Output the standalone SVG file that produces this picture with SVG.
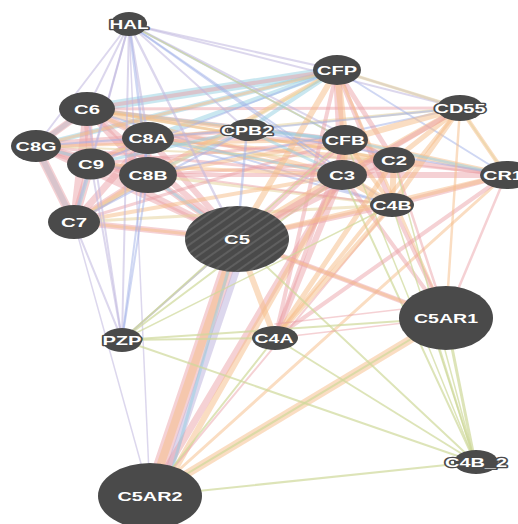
<svg xmlns="http://www.w3.org/2000/svg" width="518" height="524" viewBox="0 0 518 524">
<defs>
<pattern id="hatch" patternUnits="userSpaceOnUse" width="7" height="7" patternTransform="rotate(-35)">
<rect width="7" height="7" fill="#4a4a4a"/>
<line x1="0" y1="1" x2="7" y2="1" stroke="#6a6a6a" stroke-width="1.3"/>
</pattern>
</defs>
<style>
.e line{stroke-linecap:round;fill:none}
.pk{stroke:#eb9ea6;stroke-opacity:.48}
.or{stroke:#f5bd8a;stroke-opacity:.52}
.bl{stroke:#93d0e2;stroke-opacity:.5}
.lv{stroke:#bfb6de;stroke-opacity:.55}
.pw{stroke:#9fb0e8;stroke-opacity:.5}
.gn{stroke:#cfd99a;stroke-opacity:.7}
.bg{stroke:#e6d39e;stroke-opacity:.55}
.n ellipse{fill:#4a4a4a}
.n text{fill:#fff;font-family:"Liberation Sans",Arial,sans-serif;font-size:13px;font-weight:bold;text-anchor:middle;stroke:#4a4a4a;stroke-width:2.5;paint-order:stroke;stroke-linejoin:round}
</style>
<rect width="518" height="524" fill="#fff"/>
<g id="connectors" class="e">
<!-- wide bands -->
<line class="bl" x1="87" y1="109" x2="337" y2="70" stroke-width="9"/>
<line class="bl" x1="36" y1="146" x2="337" y2="70" stroke-width="5"/>
<line class="bl" x1="148" y1="138" x2="337" y2="70" stroke-width="5"/>
<line class="bl" x1="36" y1="146" x2="74" y2="222" stroke-width="6"/>
<line class="bl" x1="36" y1="146" x2="87" y2="109" stroke-width="5"/>
<line class="pk" x1="150" y1="496" x2="237" y2="239" stroke-width="14"/>
<line class="or" x1="150" y1="496" x2="237" y2="239" stroke-width="8"/>
<line class="lv" x1="160" y1="496" x2="247" y2="239" stroke-width="7"/>
<line class="pk" x1="150" y1="496" x2="342" y2="175" stroke-width="7"/>
<line class="or" x1="160" y1="496" x2="342" y2="175" stroke-width="6"/>
<line class="bl" x1="165" y1="496" x2="237" y2="239" stroke-width="3"/>
<line class="or" x1="150" y1="496" x2="446" y2="318" stroke-width="8"/>
<line class="gn" x1="150" y1="496" x2="446" y2="318" stroke-width="2"/>
<line class="gn" x1="150" y1="496" x2="475" y2="462" stroke-width="2"/>
<line class="or" x1="150" y1="496" x2="506" y2="175" stroke-width="3"/>
<line class="pk" x1="150" y1="496" x2="392" y2="205" stroke-width="2"/>
<line class="gn" x1="150" y1="496" x2="275" y2="338" stroke-width="2"/>
<!-- MAC cluster -->
<line class="pk" x1="87" y1="109" x2="74" y2="222" stroke-width="8"/>
<line class="pk" x1="87" y1="109" x2="148" y2="138" stroke-width="7"/>
<line class="pk" x1="87" y1="109" x2="148" y2="175" stroke-width="7"/>
<line class="pk" x1="87" y1="109" x2="36" y2="146" stroke-width="7"/>
<line class="pk" x1="87" y1="109" x2="91" y2="164" stroke-width="8"/>
<line class="pk" x1="87" y1="109" x2="237" y2="239" stroke-width="6"/>
<line class="pk" x1="74" y1="222" x2="148" y2="138" stroke-width="7"/>
<line class="pk" x1="74" y1="222" x2="148" y2="175" stroke-width="7"/>
<line class="pk" x1="74" y1="222" x2="36" y2="146" stroke-width="9"/>
<line class="pk" x1="74" y1="222" x2="91" y2="164" stroke-width="8"/>
<line class="pk" x1="74" y1="222" x2="237" y2="239" stroke-width="6"/>
<line class="pk" x1="148" y1="138" x2="148" y2="175" stroke-width="7"/>
<line class="pk" x1="148" y1="138" x2="36" y2="146" stroke-width="8"/>
<line class="pk" x1="148" y1="138" x2="91" y2="164" stroke-width="7"/>
<line class="pk" x1="148" y1="138" x2="237" y2="239" stroke-width="6"/>
<line class="pk" x1="148" y1="175" x2="36" y2="146" stroke-width="7"/>
<line class="pk" x1="148" y1="175" x2="91" y2="164" stroke-width="7"/>
<line class="pk" x1="148" y1="175" x2="237" y2="239" stroke-width="6"/>
<line class="pk" x1="36" y1="146" x2="91" y2="164" stroke-width="8"/>
<line class="pk" x1="36" y1="146" x2="237" y2="239" stroke-width="5"/>
<line class="pk" x1="91" y1="164" x2="237" y2="239" stroke-width="6"/>
<line class="or" x1="74" y1="222" x2="148" y2="175" stroke-width="4"/>
<line class="or" x1="87" y1="109" x2="148" y2="138" stroke-width="4"/>
<line class="or" x1="91" y1="164" x2="148" y2="138" stroke-width="4"/>
<line class="bl" x1="91" y1="164" x2="74" y2="222" stroke-width="4"/>
<line class="bl" x1="148" y1="175" x2="148" y2="138" stroke-width="4"/>
<line class="bl" x1="36" y1="146" x2="148" y2="175" stroke-width="3"/>
<line class="or" x1="74" y1="222" x2="237" y2="239" stroke-width="3"/>
<line class="bl" x1="148" y1="175" x2="237" y2="239" stroke-width="3"/>
<!-- MAC to alternative / classical pathway -->
<line class="or" x1="87" y1="109" x2="342" y2="175" stroke-width="4"/>
<line class="pk" x1="87" y1="109" x2="345" y2="140" stroke-width="4"/>
<line class="bl" x1="87" y1="109" x2="345" y2="140" stroke-width="3"/>
<line class="bg" x1="87" y1="109" x2="394" y2="160" stroke-width="3"/>
<line class="pk" x1="87" y1="109" x2="460" y2="108" stroke-width="3"/>
<line class="or" x1="87" y1="109" x2="247" y2="130" stroke-width="4"/>
<line class="pw" x1="87" y1="109" x2="392" y2="205" stroke-width="2"/>
<line class="or" x1="148" y1="138" x2="342" y2="175" stroke-width="4"/>
<line class="pk" x1="148" y1="138" x2="345" y2="140" stroke-width="4"/>
<line class="or" x1="148" y1="138" x2="394" y2="160" stroke-width="3"/>
<line class="bg" x1="148" y1="138" x2="460" y2="108" stroke-width="3"/>
<line class="pk" x1="148" y1="138" x2="247" y2="130" stroke-width="4"/>
<line class="pk" x1="148" y1="138" x2="506" y2="175" stroke-width="2.5"/>
<line class="pw" x1="148" y1="138" x2="392" y2="205" stroke-width="2"/>
<line class="pk" x1="148" y1="175" x2="342" y2="175" stroke-width="4"/>
<line class="or" x1="148" y1="175" x2="345" y2="140" stroke-width="4"/>
<line class="pk" x1="148" y1="175" x2="394" y2="160" stroke-width="3"/>
<line class="or" x1="148" y1="175" x2="337" y2="70" stroke-width="4"/>
<line class="bl" x1="148" y1="175" x2="247" y2="130" stroke-width="3"/>
<line class="bg" x1="148" y1="175" x2="392" y2="205" stroke-width="3"/>
<line class="pk" x1="36" y1="146" x2="342" y2="175" stroke-width="3"/>
<line class="or" x1="36" y1="146" x2="345" y2="140" stroke-width="3"/>
<line class="pw" x1="36" y1="146" x2="247" y2="130" stroke-width="2"/>
<line class="bg" x1="36" y1="146" x2="394" y2="160" stroke-width="2"/>
<line class="or" x1="91" y1="164" x2="342" y2="175" stroke-width="3.5"/>
<line class="pk" x1="91" y1="164" x2="345" y2="140" stroke-width="3"/>
<line class="pw" x1="91" y1="164" x2="337" y2="70" stroke-width="2"/>
<line class="bl" x1="91" y1="164" x2="247" y2="130" stroke-width="3"/>
<line class="pk" x1="91" y1="164" x2="392" y2="205" stroke-width="2"/>
<line class="or" x1="74" y1="222" x2="342" y2="175" stroke-width="4"/>
<line class="pk" x1="74" y1="222" x2="345" y2="140" stroke-width="3"/>
<line class="bg" x1="74" y1="222" x2="337" y2="70" stroke-width="3"/>
<line class="pw" x1="74" y1="222" x2="247" y2="130" stroke-width="2"/>
<line class="bg" x1="74" y1="222" x2="392" y2="205" stroke-width="3"/>
<line class="pk" x1="87" y1="109" x2="337" y2="70" stroke-width="4"/>
<line class="or" x1="36" y1="146" x2="337" y2="70" stroke-width="3"/>
<line class="or" x1="87" y1="109" x2="394" y2="160" stroke-width="2.5"/>
<line class="bl" x1="148" y1="138" x2="342" y2="175" stroke-width="2.5"/>
<line class="pw" x1="148" y1="175" x2="460" y2="108" stroke-width="2"/>
<!-- HAL -->
<line class="lv" x1="129" y1="24" x2="87" y2="109" stroke-width="2"/>
<line class="lv" x1="129" y1="24" x2="36" y2="146" stroke-width="2"/>
<line class="lv" x1="129" y1="24" x2="91" y2="164" stroke-width="2"/>
<line class="lv" x1="129" y1="24" x2="148" y2="138" stroke-width="2.5"/>
<line class="pw" x1="129" y1="24" x2="148" y2="175" stroke-width="2.5"/>
<line class="lv" x1="129" y1="24" x2="74" y2="222" stroke-width="2"/>
<line class="lv" x1="129" y1="24" x2="247" y2="130" stroke-width="2"/>
<line class="lv" x1="129" y1="24" x2="337" y2="70" stroke-width="2"/>
<line class="pw" x1="129" y1="24" x2="345" y2="140" stroke-width="2"/>
<line class="pw" x1="129" y1="24" x2="342" y2="175" stroke-width="2"/>
<line class="lv" x1="129" y1="24" x2="394" y2="160" stroke-width="2"/>
<line class="lv" x1="129" y1="24" x2="460" y2="108" stroke-width="2"/>
<line class="lv" x1="129" y1="24" x2="237" y2="239" stroke-width="2.5"/>
<line class="lv" x1="129" y1="24" x2="122" y2="340" stroke-width="2"/>
<line class="pw" x1="129" y1="24" x2="392" y2="205" stroke-width="2"/>
<line class="gn" x1="129" y1="24" x2="345" y2="140" stroke-width="1.5"/>
<line class="lv" x1="129" y1="24" x2="150" y2="496" stroke-width="1.5"/>
<!-- CFP -->
<line class="pk" x1="337" y1="70" x2="342" y2="175" stroke-width="8"/>
<line class="or" x1="337" y1="70" x2="345" y2="140" stroke-width="7"/>
<line class="pk" x1="337" y1="70" x2="394" y2="160" stroke-width="5"/>
<line class="pk" x1="337" y1="70" x2="392" y2="205" stroke-width="5"/>
<line class="or" x1="337" y1="70" x2="237" y2="239" stroke-width="6"/>
<line class="pk" x1="337" y1="70" x2="275" y2="338" stroke-width="4"/>
<line class="lv" x1="337" y1="70" x2="460" y2="108" stroke-width="2"/>
<line class="pw" x1="337" y1="70" x2="506" y2="175" stroke-width="2"/>
<line class="or" x1="337" y1="70" x2="446" y2="318" stroke-width="3"/>
<line class="bl" x1="337" y1="70" x2="247" y2="130" stroke-width="4"/>
<line class="bg" x1="337" y1="70" x2="460" y2="108" stroke-width="3"/>
<!-- C3 / CFB / C2 / C4B cluster -->
<line class="or" x1="342" y1="175" x2="345" y2="140" stroke-width="8"/>
<line class="pk" x1="342" y1="175" x2="394" y2="160" stroke-width="8"/>
<line class="or" x1="342" y1="175" x2="392" y2="205" stroke-width="8"/>
<line class="or" x1="342" y1="175" x2="237" y2="239" stroke-width="9"/>
<line class="pk" x1="342" y1="175" x2="275" y2="338" stroke-width="6"/>
<line class="or" x1="342" y1="175" x2="460" y2="108" stroke-width="6"/>
<line class="pk" x1="342" y1="175" x2="506" y2="175" stroke-width="6"/>
<line class="pk" x1="342" y1="175" x2="446" y2="318" stroke-width="4"/>
<line class="gn" x1="342" y1="175" x2="475" y2="462" stroke-width="2"/>
<line class="gn" x1="342" y1="175" x2="122" y2="340" stroke-width="2"/>
<line class="bl" x1="342" y1="175" x2="247" y2="130" stroke-width="3"/>
<line class="pk" x1="345" y1="140" x2="394" y2="160" stroke-width="6"/>
<line class="or" x1="345" y1="140" x2="392" y2="205" stroke-width="4"/>
<line class="pk" x1="345" y1="140" x2="237" y2="239" stroke-width="6"/>
<line class="or" x1="345" y1="140" x2="460" y2="108" stroke-width="6"/>
<line class="or" x1="345" y1="140" x2="506" y2="175" stroke-width="5"/>
<line class="pk" x1="345" y1="140" x2="275" y2="338" stroke-width="4"/>
<line class="gn" x1="345" y1="140" x2="475" y2="462" stroke-width="1.5"/>
<line class="bl" x1="345" y1="140" x2="247" y2="130" stroke-width="3"/>
<line class="or" x1="394" y1="160" x2="392" y2="205" stroke-width="6"/>
<line class="pk" x1="394" y1="160" x2="237" y2="239" stroke-width="5"/>
<line class="or" x1="394" y1="160" x2="460" y2="108" stroke-width="5"/>
<line class="pk" x1="394" y1="160" x2="506" y2="175" stroke-width="5"/>
<line class="or" x1="394" y1="160" x2="275" y2="338" stroke-width="5"/>
<line class="pk" x1="394" y1="160" x2="446" y2="318" stroke-width="2.5"/>
<line class="pk" x1="392" y1="205" x2="237" y2="239" stroke-width="5"/>
<line class="or" x1="392" y1="205" x2="275" y2="338" stroke-width="5"/>
<line class="pk" x1="392" y1="205" x2="506" y2="175" stroke-width="5"/>
<line class="or" x1="392" y1="205" x2="460" y2="108" stroke-width="5"/>
<line class="pk" x1="392" y1="205" x2="446" y2="318" stroke-width="4"/>
<line class="gn" x1="392" y1="205" x2="475" y2="462" stroke-width="1.5"/>
<line class="or" x1="460" y1="108" x2="506" y2="175" stroke-width="4"/>
<line class="bg" x1="460" y1="108" x2="506" y2="175" stroke-width="2"/>
<line class="pk" x1="460" y1="108" x2="237" y2="239" stroke-width="5"/>
<line class="or" x1="460" y1="108" x2="275" y2="338" stroke-width="4"/>
<line class="pw" x1="460" y1="108" x2="247" y2="130" stroke-width="2"/>
<line class="or" x1="506" y1="175" x2="237" y2="239" stroke-width="5"/>
<line class="pk" x1="506" y1="175" x2="275" y2="338" stroke-width="4"/>
<line class="pw" x1="506" y1="175" x2="247" y2="130" stroke-width="2"/>
<line class="bl" x1="506" y1="175" x2="345" y2="140" stroke-width="2.5"/>
<!-- C5 / C4A / C5AR1 / PZP / C4B_2 -->
<line class="or" x1="237" y1="239" x2="275" y2="338" stroke-width="6"/>
<line class="pk" x1="237" y1="239" x2="446" y2="318" stroke-width="5"/>
<line class="or" x1="237" y1="239" x2="446" y2="318" stroke-width="3"/>
<line class="gn" x1="237" y1="239" x2="122" y2="340" stroke-width="2"/>
<line class="lv" x1="237" y1="239" x2="122" y2="340" stroke-width="2"/>
<line class="gn" x1="237" y1="239" x2="475" y2="462" stroke-width="2"/>
<line class="pw" x1="237" y1="239" x2="247" y2="130" stroke-width="2.5"/>
<line class="pk" x1="275" y1="338" x2="446" y2="318" stroke-width="1.5"/>
<line class="pk" x1="275" y1="324" x2="446" y2="304" stroke-width="1.5"/>
<line class="gn" x1="275" y1="338" x2="475" y2="462" stroke-width="2"/>
<line class="gn" x1="275" y1="338" x2="122" y2="340" stroke-width="2"/>
<line class="gn" x1="446" y1="318" x2="475" y2="462" stroke-width="3"/>
<line class="gn" x1="430" y1="318" x2="475" y2="462" stroke-width="2"/>
<line class="gn" x1="446" y1="318" x2="122" y2="340" stroke-width="2"/>
<line class="gn" x1="122" y1="340" x2="475" y2="462" stroke-width="2"/>
<line class="lv" x1="122" y1="340" x2="87" y2="109" stroke-width="2"/>
<line class="lv" x1="122" y1="340" x2="91" y2="164" stroke-width="2"/>
<line class="lv" x1="122" y1="340" x2="74" y2="222" stroke-width="2"/>
<line class="pw" x1="122" y1="340" x2="148" y2="138" stroke-width="2"/>
<line class="pw" x1="122" y1="340" x2="148" y2="175" stroke-width="2"/>
<line class="gn" x1="122" y1="340" x2="345" y2="140" stroke-width="1.5"/>
<line class="gn" x1="122" y1="340" x2="392" y2="205" stroke-width="1.5"/>
<line class="pk" x1="446" y1="318" x2="506" y2="175" stroke-width="2.5"/>
<line class="or" x1="446" y1="318" x2="460" y2="108" stroke-width="2.5"/>
<line class="gn" x1="475" y1="462" x2="394" y2="160" stroke-width="1.5"/>
<line class="lv" x1="74" y1="222" x2="150" y2="496" stroke-width="1.5"/>
</g>
<g id="HAL" class="n"><ellipse cx="129" cy="24" rx="18" ry="12"/><text x="129" y="28.5" textLength="39" lengthAdjust="spacingAndGlyphs">HAL</text></g>
<g id="CFP" class="n"><ellipse cx="337" cy="70" rx="24" ry="15"/><text x="337" y="74.5" textLength="40" lengthAdjust="spacingAndGlyphs">CFP</text></g>
<g id="CD55" class="n"><ellipse cx="460" cy="108" rx="23" ry="13"/><text x="460" y="112.5" textLength="51" lengthAdjust="spacingAndGlyphs">CD55</text></g>
<g id="C6" class="n"><ellipse cx="87" cy="109" rx="28" ry="17"/><text x="87" y="113.5" textLength="26" lengthAdjust="spacingAndGlyphs">C6</text></g>
<g id="C8A" class="n"><ellipse cx="148" cy="138" rx="26" ry="16"/><text x="148" y="142.5" textLength="39" lengthAdjust="spacingAndGlyphs">C8A</text></g>
<g id="CPB2" class="n"><ellipse cx="249" cy="130" rx="21" ry="11"/><text x="247" y="134.5" textLength="52" lengthAdjust="spacingAndGlyphs">CPB2</text></g>
<g id="CFB" class="n"><ellipse cx="345" cy="140" rx="23" ry="15"/><text x="345" y="144.5" textLength="40" lengthAdjust="spacingAndGlyphs">CFB</text></g>
<g id="C8G" class="n"><ellipse cx="36" cy="146" rx="25" ry="16"/><text x="36" y="150.5" textLength="41" lengthAdjust="spacingAndGlyphs">C8G</text></g>
<g id="C9" class="n"><ellipse cx="91" cy="164" rx="24" ry="15.5"/><text x="91" y="168.5" textLength="26" lengthAdjust="spacingAndGlyphs">C9</text></g>
<g id="C8B" class="n"><ellipse cx="148" cy="175" rx="29" ry="18"/><text x="148" y="179.5" textLength="39" lengthAdjust="spacingAndGlyphs">C8B</text></g>
<g id="C2" class="n"><ellipse cx="394" cy="160" rx="21" ry="13"/><text x="394" y="164.5" textLength="26" lengthAdjust="spacingAndGlyphs">C2</text></g>
<g id="C3" class="n"><ellipse cx="342" cy="175" rx="25" ry="15"/><text x="342" y="179.5" textLength="26" lengthAdjust="spacingAndGlyphs">C3</text></g>
<g id="CR1" class="n"><ellipse cx="507" cy="175" rx="27" ry="14"/><text x="503" y="179.5" textLength="40" lengthAdjust="spacingAndGlyphs">CR1</text></g>
<g id="C4B" class="n"><ellipse cx="392" cy="205" rx="22" ry="12"/><text x="392" y="209.5" textLength="39" lengthAdjust="spacingAndGlyphs">C4B</text></g>
<g id="C7" class="n"><ellipse cx="74" cy="222" rx="26" ry="17"/><text x="74" y="226.5" textLength="26" lengthAdjust="spacingAndGlyphs">C7</text></g>
<g id="C5" class="n"><ellipse cx="237" cy="239" rx="52" ry="33" style="fill:url(#hatch)"/><text x="237" y="243.5" textLength="26" lengthAdjust="spacingAndGlyphs" style="stroke:none">C5</text></g>
<g id="PZP" class="n"><ellipse cx="122" cy="340" rx="20" ry="12"/><text x="122" y="344.5" textLength="39" lengthAdjust="spacingAndGlyphs">PZP</text></g>
<g id="C4A" class="n"><ellipse cx="275" cy="338" rx="23" ry="12"/><text x="274" y="342.5" textLength="39" lengthAdjust="spacingAndGlyphs">C4A</text></g>
<g id="C5AR1" class="n"><ellipse cx="446" cy="318" rx="47" ry="32"/><text x="446" y="322.5" textLength="64" lengthAdjust="spacingAndGlyphs">C5AR1</text></g>
<g id="C4B_2" class="n"><ellipse cx="476" cy="462" rx="22" ry="12"/><text x="476" y="466.5" textLength="62" lengthAdjust="spacingAndGlyphs">C4B_2</text></g>
<g id="C5AR2" class="n"><ellipse cx="150" cy="496" rx="52" ry="33"/><text x="150" y="500.5" textLength="65" lengthAdjust="spacingAndGlyphs">C5AR2</text></g>
</svg>
